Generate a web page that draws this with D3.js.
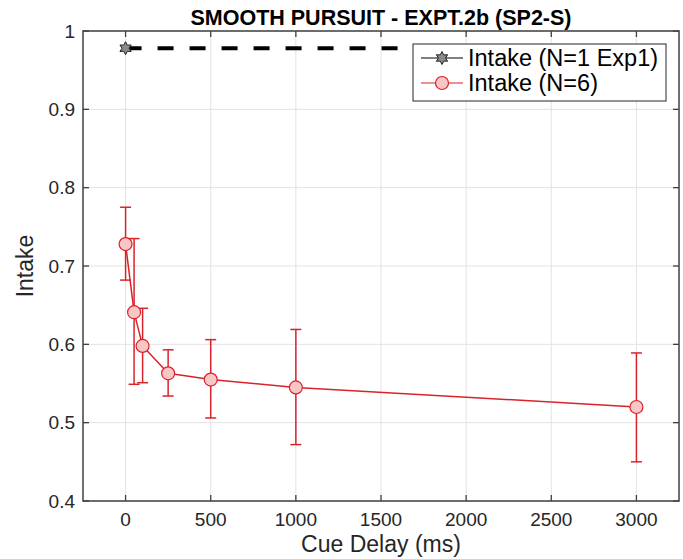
<!DOCTYPE html>
<html>
<head>
<meta charset="utf-8">
<script src="https://cdn.jsdelivr.net/npm/d3@7"></script>
<style>
  body { margin: 0; background: #fff; }
  svg { font-family: "Liberation Sans", Arial, Helvetica, sans-serif; }
</style>
</head>
<body>
<svg width="683" height="559"></svg>
<script>
// data
const delays = [0, 50, 100, 250, 500, 1000, 3000];
const intake = [0.728, 0.641, 0.598, 0.563, 0.555, 0.545, 0.520];
const errLo  = [0.682, 0.549, 0.551, 0.534, 0.506, 0.472, 0.450];
const errHi  = [0.775, 0.735, 0.646, 0.593, 0.606, 0.619, 0.589];

const exp1Delay = [0];
const exp1Intake = [0.978];
const refSpan = [0, 3000];   // dashed reference at Exp1 level

const xTicks = [0, 500, 1000, 1500, 2000, 2500, 3000];
const yTicks = [0.4, 0.5, 0.6, 0.7, 0.8, 0.9, 1];
const legendLabels = ["Intake (N=1 Exp1)", "Intake (N=6)"];

const svg = d3.select("svg"),
      margin = { top: 31, right: 4, bottom: 58, left: 83 },
      width = +svg.attr("width") - margin.left - margin.right,
      height = +svg.attr("height") - margin.top - margin.bottom;

const axisCol = "#404040", gridCol = "#e3e3e3",
      red = "#d9232b", pink = "#f9c6c6";

const x = d3.scaleLinear().domain([-250, 3250]).range([0, width]);
const y = d3.scaleLinear().domain([0.4, 1]).range([height, 0]);

const g = svg.append("g").attr("transform", `translate(${margin.left},${margin.top})`);

// grid
g.append("g").selectAll("line").data(xTicks).join("line")
  .attr("x1", d => x(d)).attr("x2", d => x(d))
  .attr("y1", 0).attr("y2", height)
  .attr("stroke", gridCol).attr("stroke-width", 1);
g.append("g").selectAll("line").data(yTicks).join("line")
  .attr("y1", d => y(d)).attr("y2", d => y(d))
  .attr("x1", 0).attr("x2", width)
  .attr("stroke", gridCol).attr("stroke-width", 1);

// dashed Exp1 reference
g.append("line")
  .attr("x1", x(refSpan[0])).attr("x2", x(refSpan[1]))
  .attr("y1", y(exp1Intake[0])).attr("y2", y(exp1Intake[0]))
  .attr("stroke", "#000").attr("stroke-width", 4)
  .attr("stroke-dasharray", "16,16");

// N=6 series
const pts = delays.map((d, i) => ({ d, v: intake[i], lo: errLo[i], hi: errHi[i] }));

g.append("path").datum(pts)
  .attr("fill", "none").attr("stroke", red).attr("stroke-width", 1.5)
  .attr("d", d3.line().x(p => x(p.d)).y(p => y(p.v)));

const eb = g.append("g").attr("stroke", red).attr("stroke-width", 1.5);
eb.selectAll(".stem").data(pts).join("line")
  .attr("x1", p => x(p.d)).attr("x2", p => x(p.d))
  .attr("y1", p => y(p.lo)).attr("y2", p => y(p.hi));
eb.selectAll(".capHi").data(pts).join("line")
  .attr("x1", p => x(p.d) - 5.5).attr("x2", p => x(p.d) + 5.5)
  .attr("y1", p => y(p.hi)).attr("y2", p => y(p.hi));
eb.selectAll(".capLo").data(pts).join("line")
  .attr("x1", p => x(p.d) - 5.5).attr("x2", p => x(p.d) + 5.5)
  .attr("y1", p => y(p.lo)).attr("y2", p => y(p.lo));

g.append("g").selectAll("circle").data(pts).join("circle")
  .attr("cx", p => x(p.d)).attr("cy", p => y(p.v)).attr("r", 6.5)
  .attr("fill", pink).attr("stroke", red).attr("stroke-width", 1.2);

// six point star marker
function hexagram(r) {
  const pts = [];
  for (let k = 0; k < 12; k++) {
    const a = -Math.PI / 2 + k * Math.PI / 6, rr = k % 2 ? r * 0.55 : r;
    pts.push([rr * Math.cos(a), rr * Math.sin(a)]);
  }
  return "M" + pts.map(p => p.join(",")).join("L") + "Z";
}

g.append("g").selectAll("path").data(exp1Delay).join("path")
  .attr("transform", (d, i) => `translate(${x(d)},${y(exp1Intake[i])})`)
  .attr("d", hexagram(6.5))
  .attr("fill", "#8a8a8a").attr("stroke", "#222").attr("stroke-width", 1);

// axes box with inward ticks
const tickLen = 6;
g.append("rect").attr("width", width).attr("height", height)
  .attr("fill", "none").attr("stroke", axisCol).attr("stroke-width", 1.5);

const tk = g.append("g").attr("stroke", axisCol).attr("stroke-width", 1.3);
xTicks.forEach(t => {
  tk.append("line").attr("x1", x(t)).attr("x2", x(t)).attr("y1", height).attr("y2", height - tickLen);
  tk.append("line").attr("x1", x(t)).attr("x2", x(t)).attr("y1", 0).attr("y2", tickLen);
});
yTicks.forEach(t => {
  tk.append("line").attr("y1", y(t)).attr("y2", y(t)).attr("x1", 0).attr("x2", tickLen);
  tk.append("line").attr("y1", y(t)).attr("y2", y(t)).attr("x1", width).attr("x2", width - tickLen);
});

g.append("g").selectAll("text").data(xTicks).join("text")
  .attr("x", d => x(d)).attr("y", height + 25)
  .attr("text-anchor", "middle").attr("font-size", 19).attr("fill", "#262626")
  .text(d => d);
g.append("g").selectAll("text").data(yTicks).join("text")
  .attr("x", -8).attr("y", d => y(d)).attr("dy", "0.35em")
  .attr("text-anchor", "end").attr("font-size", 19).attr("fill", "#262626")
  .text(d => d3.format("")(+d.toFixed(1)));

// labels
g.append("text").attr("x", width / 2).attr("y", height + 51)
  .attr("text-anchor", "middle").attr("font-size", 23).attr("fill", "#262626")
  .text("Cue Delay (ms)");
g.append("text").attr("transform", "rotate(-90)")
  .attr("x", -height / 2).attr("y", -50)
  .attr("text-anchor", "middle").attr("font-size", 23).attr("fill", "#262626")
  .text("Intake");
g.append("text").attr("x", width / 2).attr("y", -6)
  .attr("text-anchor", "middle").attr("font-size", 21.5).attr("font-weight", "bold")
  .attr("fill", "#000")
  .text("SMOOTH PURSUIT - EXPT.2b (SP2-S)");

// legend
const legend = svg.append("g").attr("transform", "translate(413,44)");
legend.append("rect").attr("width", 253).attr("height", 57)
  .attr("fill", "#fff").attr("stroke", "#262626").attr("stroke-width", 1);

const rows = legend.selectAll(".row").data(legendLabels).join("g")
  .attr("transform", (d, i) => `translate(0,${14 + i * 25})`);
rows.append("line").attr("x1", 8).attr("x2", 50)
  .attr("stroke", (d, i) => i ? red : "#000").attr("stroke-width", 1.2);
rows.filter((d, i) => i === 0).append("path")
  .attr("transform", "translate(29,0)").attr("d", hexagram(6.5))
  .attr("fill", "#8a8a8a").attr("stroke", "#222").attr("stroke-width", 1);
rows.filter((d, i) => i === 1).append("circle")
  .attr("cx", 29).attr("r", 6.5)
  .attr("fill", pink).attr("stroke", red).attr("stroke-width", 1.2);
rows.append("text").attr("x", 55).attr("dy", "0.35em")
  .attr("font-size", 23.5).attr("fill", "#000")
  .text(d => d);
</script>
</body>
</html>
